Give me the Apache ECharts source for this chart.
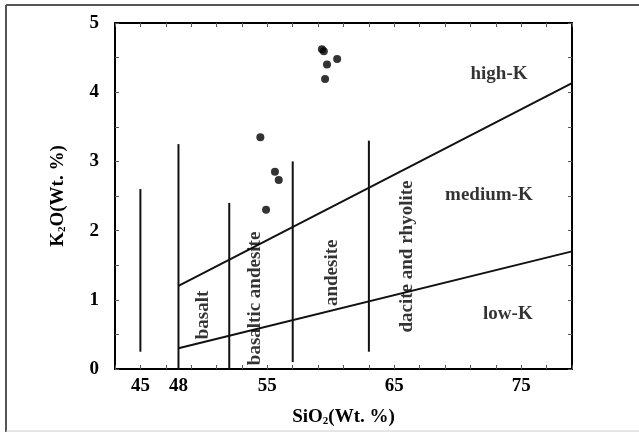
<!DOCTYPE html>
<html>
<head>
<meta charset="utf-8">
<script src="https://cdn.jsdelivr.net/npm/echarts@6.0.0/dist/echarts.min.js"></script>
<style>
html,body{margin:0;padding:0;background:#fff;}
#chart{width:639px;height:432px;}
</style>
</head>
<body>
<div id="chart"></div>
<script>
// ---- data ----
var xTickValues = [43,45,47,49,51,53,55,57,59,61,63,65,67,69,71,73,75,77,79];
var xLabelValues = [45,48,55,65,75];
var yTickValues = [0,0.5,1,1.5,2,2.5,3,3.5,4,4.5,5];
var yLabelValues = [0,1,2,3,4,5];

var sampleSiO2 = [59.3, 59.45, 60.5, 59.7, 59.55, 54.45, 55.6, 55.9, 54.9];
var sampleK2O  = [4.62, 4.59, 4.48, 4.40, 4.19, 3.35, 2.85, 2.73, 2.30];

// vertical rock-type dividers
var dividerSiO2   = [45, 48, 52, 57, 63];
var dividerBottom = [0.25, 0, 0, 0.1, 0.25];
var dividerTop    = [2.6, 3.25, 2.4, 3.0, 3.3];

// K-series boundaries
var highMedSiO2 = [48, 79];
var highMedK2O  = [1.2, 4.13];
var medLowSiO2  = [48, 79];
var medLowK2O   = [0.3, 1.7];

// region names and their anchor points (data units)
var seriesNames = ['high-K', 'medium-K', 'low-K'];
var seriesNameSiO2 = [73.25, 72.45, 73.95];
var seriesNameK2O  = [4.26, 2.52, 0.79];
var rockNames = ['basalt', 'basaltic andesite', 'andesite', 'dacite and rhyolite'];
var rockNameSiO2 = [49.93, 54.02, 60.1, 66.0];
var rockNameK2O  = [0.78, 1.02, 1.39, 1.625];

// ---- chart ----
var FONT = '"Liberation Serif", "Times New Roman", serif';
var INK = '#000';
var chart = echarts.init(document.getElementById('chart'), null, {renderer:'canvas'});

function zip(a, b){ return a.map(function(v,i){ return [v, b[i]]; }); }

var series = [];
dividerSiO2.forEach(function(x, i){
  series.push({
    type:'line', xAxisIndex:0, yAxisIndex:0, symbol:'none', silent:true,
    data:[[x, dividerBottom[i]], [x, dividerTop[i]]],
    lineStyle:{color:'#111', width:2}, z:3
  });
});
series.push({type:'line', symbol:'none', silent:true, data:zip(highMedSiO2, highMedK2O), lineStyle:{color:'#111', width:2}, z:3});
series.push({type:'line', symbol:'none', silent:true, data:zip(medLowSiO2, medLowK2O), lineStyle:{color:'#111', width:2}, z:3});
series.push({
  type:'scatter', data:zip(sampleSiO2, sampleK2O), symbol:'circle', symbolSize:8,
  itemStyle:{color:'#000'}, z:5
});
series.push({
  type:'scatter', symbolSize:0, silent:true, itemStyle:{color:'transparent'},
  data:seriesNames.map(function(n,i){ return {name:n, value:[seriesNameSiO2[i], seriesNameK2O[i]]}; }),
  label:{show:true, position:'inside', formatter:'{b}', color:INK, fontFamily:FONT, fontWeight:'bold', fontSize:19, align:'center', verticalAlign:'middle'},
  z:6
});
series.push({
  type:'scatter', symbolSize:0, silent:true, itemStyle:{color:'transparent'},
  data:rockNames.map(function(n,i){ return {name:n, value:[rockNameSiO2[i], rockNameK2O[i]]}; }),
  label:{show:true, position:'inside', rotate:90, formatter:'{b}', color:INK, fontFamily:FONT, fontWeight:'bold', fontSize:19, align:'center', verticalAlign:'middle'},
  z:6
});

var axisLine = {show:true, onZero:false, lineStyle:{color:'#000', width:2}};
var labelStyle = {color:INK, fontFamily:FONT, fontWeight:'bold', fontSize:19};
var rich = {
  a:{fontFamily:FONT, fontWeight:'bold', fontSize:19, color:INK},
  s:{fontFamily:FONT, fontWeight:'bold', fontSize:11, color:INK, padding:[9,0,0,0]}
};

var option = {
  animation:false,
  backgroundColor:'#fff',
  grid:{left:115, top:23, right:67, bottom:57, containLabel:false},
  xAxis:[
    {type:'value', min:43, max:79, position:'bottom',
     axisLine:axisLine,
     axisTick:{show:true, inside:true, length:4, customValues:xTickValues, lineStyle:{color:'#555', width:1}},
     axisLabel:Object.assign({customValues:xLabelValues, margin:8}, labelStyle),
     splitLine:{show:false},
     name:'{a|SiO}{s|2}{a|(Wt. %)}', nameLocation:'middle', nameGap:38,
     nameTextStyle:{rich:rich}
    },
    {type:'value', min:43, max:79, position:'top',
     axisLine:axisLine,
     axisTick:{show:true, inside:true, length:4, customValues:xTickValues, lineStyle:{color:'#555', width:1}},
     axisLabel:{show:false}, splitLine:{show:false}
    }
  ],
  yAxis:[
    {type:'value', min:0, max:5, position:'left',
     axisLine:axisLine,
     axisTick:{show:true, inside:true, length:4, customValues:yTickValues, lineStyle:{color:'#555', width:1}},
     axisLabel:Object.assign({customValues:yLabelValues, margin:16}, labelStyle),
     splitLine:{show:false},
     name:'{a|K}{s|2}{a|O(Wt. %)}', nameLocation:'middle', nameGap:47, nameRotate:90,
     nameTextStyle:{rich:rich}
    },
    {type:'value', min:0, max:5, position:'right',
     axisLine:axisLine,
     axisTick:{show:true, inside:true, length:4, customValues:yTickValues, lineStyle:{color:'#555', width:1}},
     axisLabel:{show:false}, splitLine:{show:false}
    }
  ],
  graphic:[
    {type:'line', shape:{x1:6, y1:5, x2:639, y2:5}, style:{stroke:'#555', lineWidth:2}},
    {type:'line', shape:{x1:6, y1:5, x2:6, y2:432}, style:{stroke:'#555', lineWidth:2}},
    {type:'line', shape:{x1:6, y1:431, x2:639, y2:431}, style:{stroke:'#ccc', lineWidth:1}}
  ],
  series:series
};
chart.setOption(option);
</script>
</body>
</html>
